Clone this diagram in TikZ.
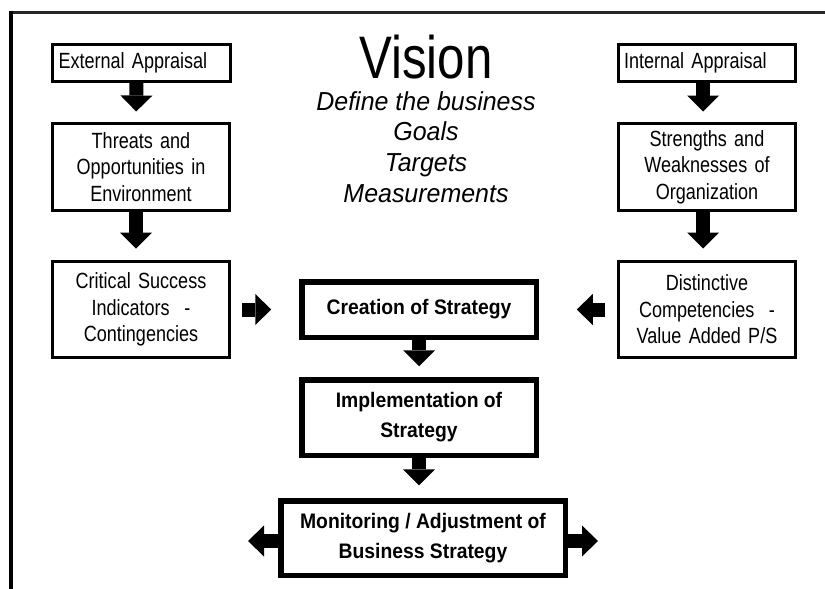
\documentclass[tikz,border=0pt]{standalone}
\usepackage{fontspec}
\setmainfont{Liberation Sans}[FakeStretch=0.82, BoldFeatures={FakeStretch=0.92}, ItalicFeatures={FakeStretch=0.96}]
\usetikzlibrary{arrows.meta}
\newcommand\boxfont{\fontsize{22}{26.5}\selectfont\fontdimen2\font=4.4pt\relax}
\begin{document}
\begin{tikzpicture}[x=1pt,y=-1pt,
  thinbox/.style={draw, line width=3pt, align=center, inner sep=2pt, text width=172pt,
    font=\boxfont},
  thickbox/.style={draw, line width=5.5pt, align=center, inner sep=2pt,
    font=\bfseries\fontsize{21}{30}\selectfont},
  ital/.style={anchor=base, inner sep=0pt, font=\itshape\fontsize{26}{30}\selectfont},
  blockarrow/.style={line width=14pt, -{Triangle[width=32pt,length=16pt,line width=0pt]}},
  sidearrow/.style={line width=14pt, -{Triangle[width=31pt,length=16pt,line width=0pt]}}]
\useasboundingbox (0,0) rectangle (825,589);
\fill[white] (0,0) rectangle (825,589);
% outer frame (only top and left edges visible)
\draw[line width=3pt, black!85] (825,12) -- (11,12);
\draw[line width=4pt] (11,10.5) -- (11,589);

% title block
\node[anchor=base, inner sep=0pt, font=\fontsize{60}{60}\selectfont] (vision) at (426,78) {Vision};
\node[ital] (define) at (426,110) {Define the business};
\node[ital] (goals) at (426,140.5) {Goals};
\node[ital] (targets) at (426,171) {Targets};
\node[ital] (meas) at (426,202) {Measurements};

% left column
\node[thinbox, minimum width=178pt, minimum height=37pt, text width=166pt, align=left] (ext) at (141.5,62.5) {External Appraisal};
\node[thinbox, minimum width=177pt, minimum height=87pt] (threats) at (141,167) {Threats and\\Opportunities in\\Environment};
\node[thinbox, minimum width=177pt, minimum height=96pt] (crit) at (141,309.5) {Critical Success\\Indicators~~-\\Contingencies};

% right column
\node[thinbox, minimum width=177pt, minimum height=37pt, text width=166pt, align=left] (int) at (707,63) {Internal Appraisal};
\node[thinbox, minimum width=177pt, minimum height=87pt] (strength) at (707,167) {Strengths and\\Weaknesses of\\Organization};
\node[thinbox, minimum width=177pt, minimum height=96pt] (dist) at (707,309.5) {Distinctive\\Competencies~~-\\Value Added P/S};

% centre column
\node[thickbox, minimum width=234.5pt, minimum height=55.5pt] (create) at (419,309.5) {Creation of Strategy};
\node[thickbox, minimum width=234.5pt, minimum height=75.5pt] (impl) at (419,417.5) {Implementation of\\Strategy};
\node[thickbox, minimum width=284.5pt, minimum height=74.5pt] (mon) at (423,538) {Monitoring / Adjustment of\\Business Strategy};

% connectors
\draw[blockarrow, shorten >=10.5pt] ([xshift=-5pt]ext.south) -- ([xshift=-5pt]threats.north);
\draw[blockarrow, shorten >=11.5pt] ([xshift=-5pt]threats.south) -- ([xshift=-5pt]crit.north);
\draw[blockarrow, shorten >=10.5pt] ([xshift=-4pt]int.south) -- ([xshift=-4pt]strength.north);
\draw[blockarrow, shorten >=11.5pt] ([xshift=-4pt]strength.south) -- ([xshift=-4pt]dist.north);

\draw[sidearrow, shorten <=11pt, shorten >=27.75pt] (crit.east) -- (create.west);
\draw[sidearrow, shorten <=12pt, shorten >=37.75pt] (dist.west) -- (create.east);

\draw[blockarrow, shorten >=10.75pt] (create.south) -- (impl.north);
\draw[blockarrow, shorten >=12.75pt] (impl.south) -- (impl.south |- mon.north);

\coordinate (mL) at (248,541);
\coordinate (mR) at (598,541);
\draw[sidearrow] (mon.west |- mL) -- (mL);
\draw[sidearrow] (mon.east |- mR) -- (mR);
\end{tikzpicture}
\end{document}
